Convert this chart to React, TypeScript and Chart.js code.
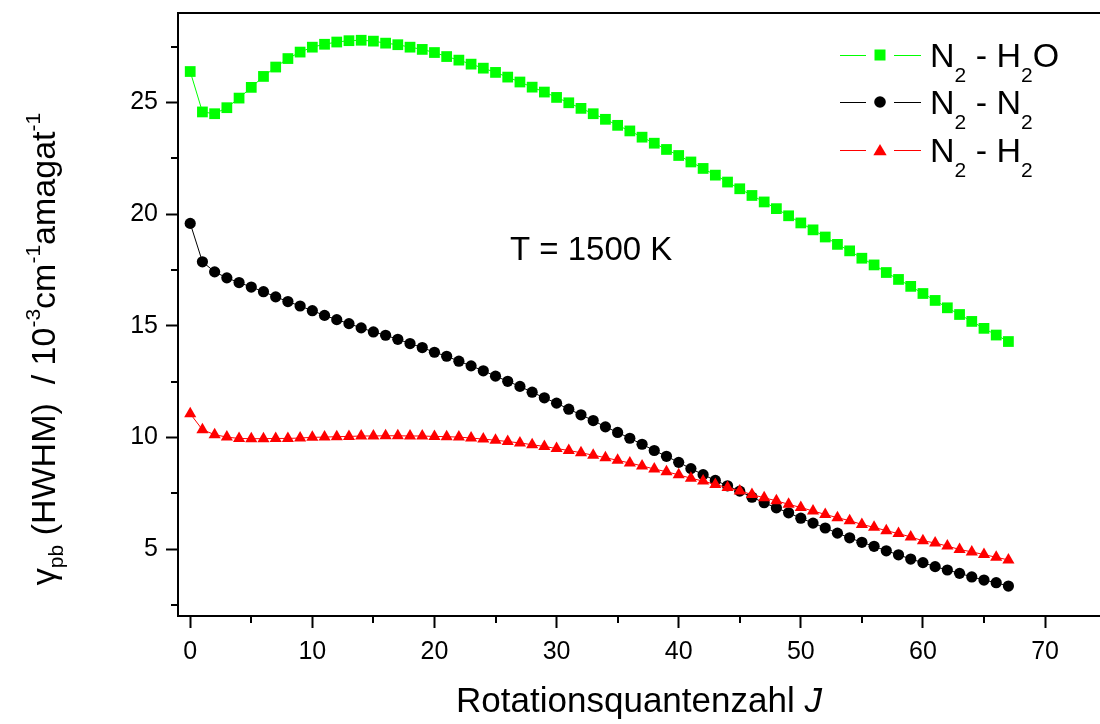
import React, { useEffect, useRef } from 'react';
import { Chart, registerables } from 'chart.js';

Chart.register(...registerables);

const J = [0, 1, 2, 3, 4, 5, 6, 7, 8, 9, 10, 11, 12, 13, 14, 15, 16, 17, 18, 19, 20, 21, 22, 23, 24, 25, 26, 27, 28, 29, 30, 31, 32, 33, 34, 35, 36, 37, 38, 39, 40, 41, 42, 43, 44, 45, 46, 47, 48, 49, 50, 51, 52, 53, 54, 55, 56, 57, 58, 59, 60, 61, 62, 63, 64, 65, 66, 67];

const N2_H2O = [26.38, 24.57, 24.49, 24.76, 25.19, 25.67, 26.16, 26.58, 26.96, 27.25,
  27.47, 27.6, 27.7, 27.76, 27.78, 27.74, 27.65, 27.58, 27.47, 27.37,
  27.23, 27.05, 26.89, 26.71, 26.53, 26.34, 26.13, 25.91, 25.68, 25.46,
  25.22, 24.98, 24.73, 24.49, 24.24, 23.97, 23.72, 23.44, 23.17, 22.89,
  22.62, 22.33, 22.04, 21.74, 21.43, 21.13, 20.83, 20.54, 20.24, 19.92,
  19.6, 19.29, 18.97, 18.64, 18.35, 18.02, 17.72, 17.38, 17.07, 16.76,
  16.44, 16.13, 15.8, 15.5, 15.19, 14.88, 14.58, 14.29];

const N2_N2 = [19.58, 17.86, 17.41, 17.14, 16.93, 16.73, 16.52, 16.29, 16.08, 15.88,
  15.67, 15.46, 15.27, 15.09, 14.9, 14.72, 14.57, 14.39, 14.2, 14.02,
  13.81, 13.63, 13.41, 13.2, 12.98, 12.74, 12.51, 12.28, 12.02, 11.77,
  11.53, 11.26, 11.01, 10.75, 10.47, 10.22, 9.96, 9.69, 9.41, 9.15,
  8.88, 8.6, 8.33, 8.07, 7.83, 7.59, 7.32, 7.07, 6.84, 6.62,
  6.38, 6.16, 5.94, 5.71, 5.5, 5.3, 5.12, 4.92, 4.74, 4.55,
  4.39, 4.21, 4.06, 3.91, 3.75, 3.61, 3.49, 3.34];

const N2_H2 = [11.06, 10.34, 10.12, 10.01, 9.95, 9.94, 9.94, 9.95, 9.95, 9.97,
  10.0, 10.01, 10.03, 10.04, 10.06, 10.06, 10.07, 10.07, 10.06, 10.06,
  10.04, 10.03, 10.01, 9.97, 9.92, 9.87, 9.81, 9.75, 9.67, 9.59,
  9.5, 9.41, 9.31, 9.2, 9.09, 8.97, 8.85, 8.72, 8.58, 8.46,
  8.32, 8.17, 8.04, 7.89, 7.75, 7.6, 7.44, 7.29, 7.16, 7.0,
  6.86, 6.7, 6.55, 6.4, 6.27, 6.1, 5.97, 5.82, 5.69, 5.54,
  5.37, 5.27, 5.13, 4.98, 4.87, 4.75, 4.63, 4.51];

const X_TICKS = [0, 10, 20, 30, 40, 50, 60, 70];
const X_MINOR = [5, 15, 25, 35, 45, 55, 65];
const Y_TICKS = [5, 10, 15, 20, 25];
const Y_MINOR = [2.5, 7.5, 12.5, 17.5, 22.5, 27.5];

const GREEN = '#00ff00';
const BLACK = '#000000';
const RED = '#ff0000';
const FONT = '"Liberation Sans", Arial, Helvetica, sans-serif';

type Part = { t: string; size: number; dy?: number; italic?: boolean };

function fontOf(p: Part) {
  return `${p.italic ? 'italic ' : ''}${p.size}px ${FONT}`;
}

function richWidth(ctx: CanvasRenderingContext2D, parts: Part[]) {
  let w = 0;
  for (const p of parts) {
    ctx.font = fontOf(p);
    w += ctx.measureText(p.t).width;
  }
  return w;
}

function drawRich(ctx: CanvasRenderingContext2D, parts: Part[], x: number, y: number) {
  let cx = x;
  ctx.textAlign = 'left';
  ctx.textBaseline = 'alphabetic';
  for (const p of parts) {
    ctx.font = fontOf(p);
    ctx.fillText(p.t, cx, y + (p.dy || 0));
    cx += ctx.measureText(p.t).width;
  }
}

function drawMarker(ctx: CanvasRenderingContext2D, kind: string, x: number, y: number, color: string) {
  ctx.fillStyle = color;
  ctx.beginPath();
  if (kind === 'rect') {
    ctx.rect(x - 5.5, y - 5.5, 11, 11);
  } else if (kind === 'circle') {
    ctx.arc(x, y, 5.8, 0, Math.PI * 2);
  } else {
    const r = 7.4;
    ctx.moveTo(x, y - r * 0.8);
    ctx.lineTo(x + r * 0.9, y + r * 0.7);
    ctx.lineTo(x - r * 0.9, y + r * 0.7);
    ctx.closePath();
  }
  ctx.fill();
}

const decorPlugin = {
  id: 'decor',
  afterDraw(chart: any) {
    const { ctx, chartArea, scales } = chart;
    const xs = scales.x;
    const ys = scales.y;
    ctx.save();
    ctx.strokeStyle = '#000';
    ctx.lineWidth = 2;
    // top frame line
    ctx.beginPath();
    ctx.moveTo(chartArea.left - 1, chartArea.top);
    ctx.lineTo(chart.width, chartArea.top);
    ctx.stroke();
    // minor ticks
    ctx.beginPath();
    for (const v of Y_MINOR) {
      const py = Math.round(ys.getPixelForValue(v));
      ctx.moveTo(chartArea.left - 7, py);
      ctx.lineTo(chartArea.left, py);
    }
    for (const v of X_MINOR) {
      const px = Math.round(xs.getPixelForValue(v));
      ctx.moveTo(px, chartArea.bottom);
      ctx.lineTo(px, chartArea.bottom + 7);
    }
    ctx.stroke();

    ctx.fillStyle = '#000';
    // x title
    const xt: Part[] = [
      { t: 'Rotationsquantenzahl ', size: 35 },
      { t: 'J', size: 35, italic: true },
    ];
    const xw = richWidth(ctx, xt);
    drawRich(ctx, xt, (chartArea.left + chartArea.right) / 2 - xw / 2, 712);

    // y title (rotated)
    const yt: Part[] = [
      { t: 'γ', size: 34 },
      { t: 'pb', size: 21, dy: 8 },
      { t: ' (HWHM)  / 10', size: 34 },
      { t: '-3', size: 21, dy: -15 },
      { t: 'cm', size: 34 },
      { t: '-1', size: 21, dy: -15 },
      { t: 'amagat', size: 34 },
      { t: '-1', size: 21, dy: -15 },
    ];
    const yw = richWidth(ctx, yt);
    ctx.save();
    ctx.translate(55, 349);
    ctx.rotate(-Math.PI / 2);
    ctx.fillStyle = '#000';
    drawRich(ctx, yt, -yw / 2, 0);
    ctx.restore();

    // annotation
    ctx.fillStyle = '#000';
    drawRich(ctx, [{ t: 'T = 1500 K', size: 33 }], 510, 260);

    // legend
    const rows = [
      { c: GREEN, k: 'rect', y: 55, parts: [{ t: 'N', size: 34 }, { t: '2', size: 21, dy: 15 }, { t: ' - H', size: 34 }, { t: '2', size: 21, dy: 15 }, { t: 'O', size: 34 }] },
      { c: BLACK, k: 'circle', y: 102, parts: [{ t: 'N', size: 34 }, { t: '2', size: 21, dy: 15 }, { t: ' - N', size: 34 }, { t: '2', size: 21, dy: 15 }] },
      { c: RED, k: 'triangle', y: 150, parts: [{ t: 'N', size: 34 }, { t: '2', size: 21, dy: 15 }, { t: ' - H', size: 34 }, { t: '2', size: 21, dy: 15 }] },
    ];
    for (const r of rows) {
      ctx.strokeStyle = r.c;
      ctx.lineWidth = 1;
      ctx.beginPath();
      ctx.moveTo(840, r.y + 0.5);
      ctx.lineTo(866, r.y + 0.5);
      ctx.moveTo(894, r.y + 0.5);
      ctx.lineTo(921, r.y + 0.5);
      ctx.stroke();
      drawMarker(ctx, r.k, 880, r.y, r.c);
      ctx.fillStyle = '#000';
      drawRich(ctx, r.parts as Part[], 930, r.y + 12);
    }
    ctx.restore();
  },
};

export default function App() {
  const canvasRef = useRef<HTMLCanvasElement | null>(null);

  useEffect(() => {
    document.body.style.margin = '0';
    const canvas = canvasRef.current;
    if (!canvas) return;
    const mk = (vals: number[]) => J.map((j, i) => ({ x: j, y: vals[i] }));
    const chart = new Chart(canvas, {
      type: 'line',
      data: {
        datasets: [
          {
            label: 'N2 - H2O',
            data: mk(N2_H2O),
            borderColor: GREEN,
            backgroundColor: GREEN,
            borderWidth: 1,
            pointStyle: 'rect',
            pointRadius: 7.6,
            pointBorderWidth: 0,
            pointBackgroundColor: GREEN,
            order: 2,
          },
          {
            label: 'N2 - N2',
            data: mk(N2_N2),
            borderColor: BLACK,
            backgroundColor: BLACK,
            borderWidth: 1,
            pointStyle: 'circle',
            pointRadius: 5.6,
            pointBorderWidth: 0,
            pointBackgroundColor: BLACK,
            order: 1,
          },
          {
            label: 'N2 - H2',
            data: mk(N2_H2),
            borderColor: RED,
            backgroundColor: RED,
            borderWidth: 1,
            pointStyle: 'triangle',
            pointRadius: 7,
            pointBorderWidth: 0,
            pointBackgroundColor: RED,
            order: 0,
          },
        ],
      },
      options: {
        responsive: false,
        animation: false,
        events: [],
        layout: { autoPadding: false, padding: { left: 0, top: 13, right: 0, bottom: 0 } },
        plugins: {
          legend: { display: false },
          tooltip: { enabled: false },
          title: { display: false },
        },
        scales: {
          x: {
            type: 'linear',
            min: -1,
            max: 74.5,
            afterBuildTicks: (s: any) => {
              s.ticks = X_TICKS.map((v) => ({ value: v }));
            },
            afterFit: (s: any) => {
              s.height = 108;
              s.paddingLeft = 0;
              s.paddingRight = 0;
            },
            grid: {
              display: true,
              drawOnChartArea: false,
              drawTicks: true,
              tickLength: 12,
              tickWidth: 2,
              tickColor: '#000',
              color: '#000',
            },
            border: { display: true, width: 2, color: '#000' },
            ticks: {
              color: '#000',
              font: { family: FONT, size: 25 },
              padding: 9,
              maxRotation: 0,
              autoSkip: false,
              callback: (v: any) => String(v),
            },
          },
          y: {
            type: 'linear',
            min: 2,
            max: 29,
            afterBuildTicks: (s: any) => {
              s.ticks = Y_TICKS.map((v) => ({ value: v }));
            },
            afterFit: (s: any) => {
              s.width = 178;
              s.paddingTop = 0;
              s.paddingBottom = 0;
            },
            grid: {
              display: true,
              drawOnChartArea: false,
              drawTicks: true,
              tickLength: 12,
              tickWidth: 2,
              tickColor: '#000',
              color: '#000',
            },
            border: { display: true, width: 2, color: '#000' },
            ticks: {
              color: '#000',
              font: { family: FONT, size: 25 },
              padding: 8,
              autoSkip: false,
              callback: (v: any) => String(v),
            },
          },
        },
      },
      plugins: [decorPlugin],
    });
    return () => chart.destroy();
  }, []);

  return (
    <div style={{ position: 'absolute', left: 0, top: 0, width: 1100, height: 724, background: '#fff' }}>
      <canvas ref={canvasRef} width={1100} height={724} style={{ display: 'block' }} />
    </div>
  );
}
